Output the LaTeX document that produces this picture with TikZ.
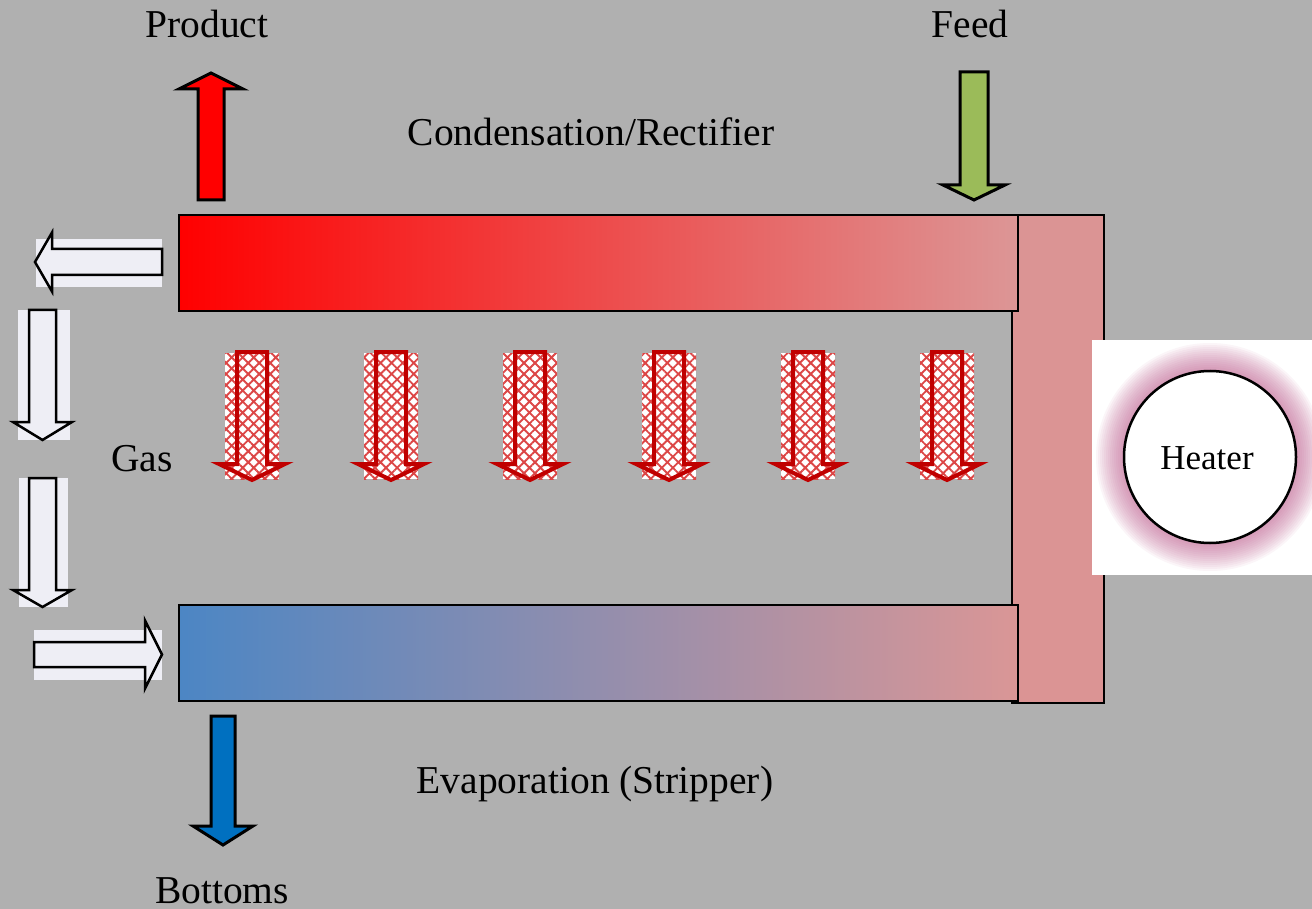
\documentclass[tikz,border=0pt]{standalone}
\usepackage{fontspec}
\setmainfont{Liberation Serif}
\usetikzlibrary{patterns.meta}
\definecolor{bg}{RGB}{176,176,176}
\definecolor{redA}{RGB}{255,0,0}
\definecolor{redB}{RGB}{220,150,150}
\definecolor{blueA}{RGB}{76,134,196}
\definecolor{pinkB}{RGB}{218,150,150}
\definecolor{vbar}{RGB}{219,148,148}
\definecolor{prodred}{RGB}{255,0,0}
\definecolor{feedgreen}{RGB}{155,187,89}
\definecolor{botblue}{RGB}{0,112,192}
\definecolor{hatchred}{RGB}{192,0,0}
\definecolor{hatchlite}{RGB}{220,70,70}
\definecolor{whitebox}{RGB}{238,238,245}
\definecolor{glow}{RGB}{190,90,140}
% vertical arrow: cx, shaft half width, start y, head base y, head half width, tip y
\newcommand{\varrowpath}[6]{({#1-#2},#3) -- ({#1+#2},#3) -- ({#1+#2},#4) -- ({#1+#5},#4) -- (#1,#6) -- ({#1-#5},#4) -- ({#1-#2},#4) -- cycle}
% horizontal arrow: cy, shaft half height, start x, head base x, head half height, tip x
\newcommand{\harrowpath}[6]{(#3,{#1-#2}) -- (#3,{#1+#2}) -- (#4,{#1+#2}) -- (#4,{#1+#5}) -- (#6,#1) -- (#4,{#1-#5}) -- (#4,{#1-#2}) -- cycle}
\begin{document}
\begin{tikzpicture}[x=1pt,y=-1pt,
  lbl/.style={anchor=base,inner sep=0pt,font=\fontsize{39.5}{46}\selectfont},
  bar/.style={draw=black,line width=2pt},
  bigarrow/.style={draw=black,line width=3pt,line join=miter},
  wharrow/.style={draw=black,line width=2.5pt,fill=whitebox,line join=miter},
  wbox/.style={fill=whitebox},
  hbox/.style={pattern={Hatch[angle=45,distance=7.8pt,line width=1.9pt]},pattern color=hatchlite},
  harrow/.style={draw=hatchred,line width=4pt,line join=miter}]
\useasboundingbox (0,0) rectangle (1312,909);
\fill[bg] (0,0) rectangle (1312,909);

% vertical connecting bar
\fill[vbar] (1012,215) rectangle (1104,703);
\draw[bar] (1012,215) rectangle (1104,703);
% top bar (rectifier)
\shade[left color=redA,right color=redB] (179,215) rectangle (1018,311);
\draw[bar] (179,215) rectangle (1018,311);
% bottom bar (stripper)
\shade[left color=blueA,right color=pinkB] (179,605) rectangle (1018,701);
\draw[bar] (179,605) rectangle (1018,701);

% product / feed / bottoms arrows
\draw[bigarrow,fill=prodred] \varrowpath{211}{13}{200}{89}{32}{73};
\draw[bigarrow,fill=feedgreen] \varrowpath{974}{14}{72}{185}{31}{200};
\draw[bigarrow,fill=botblue] \varrowpath{223}{12}{716}{826}{30}{845};

% left white arrows
\fill[wbox] (36,239) rectangle (162,287);
\draw[wharrow] \harrowpath{262}{13}{162}{52}{29.5}{35};
\fill[wbox] (18,310) rectangle (70,440);
\draw[wharrow] \varrowpath{42.5}{13.5}{310}{422}{29.5}{440};
\fill[wbox] (19,478) rectangle (68,607);
\draw[wharrow] \varrowpath{42.5}{13.5}{478}{590}{29.5}{607};
\fill[wbox] (34,630) rectangle (162,680);
\draw[wharrow] \harrowpath{654.5}{12.5}{34}{145}{34}{162};

% hatched gas arrows
\foreach \k in {0,...,5}{
  \pgfmathsetmacro{\cx}{252+139*\k}
  \fill[white] ({\cx-27},353) rectangle ({\cx+27},479);
  \fill[hbox] ({\cx-27},353) rectangle ({\cx+27},479);
  \draw[harrow] \varrowpath{\cx}{15}{352}{464}{33}{480};
}

% heater
\fill[white] (1092,340) rectangle (1312,575);
\foreach \r in {88,90,...,114}{
  \fill[glow,fill opacity=0.06] (1210,457) circle (\r);
}
\fill[white] (1210,457) circle (86);
\draw[black,line width=2.5pt] (1210,457) circle (86);

% labels
\node[lbl] (product) at (207,38) {Product};
\node[lbl] (feed) at (970,38) {Feed};
\node[lbl] (cond) at (591,146) {Condensation/Rectifier};
\node[lbl] (gas) at (142,471) {Gas};
\node[lbl] (evap) at (595,793) {Evaporation (Stripper)};
\node[lbl] (bottoms) at (222,903) {Bottoms};
\node[lbl,font=\fontsize{35}{42}\selectfont] (heater) at (1207,469) {Heater};
\end{tikzpicture}
\end{document}
